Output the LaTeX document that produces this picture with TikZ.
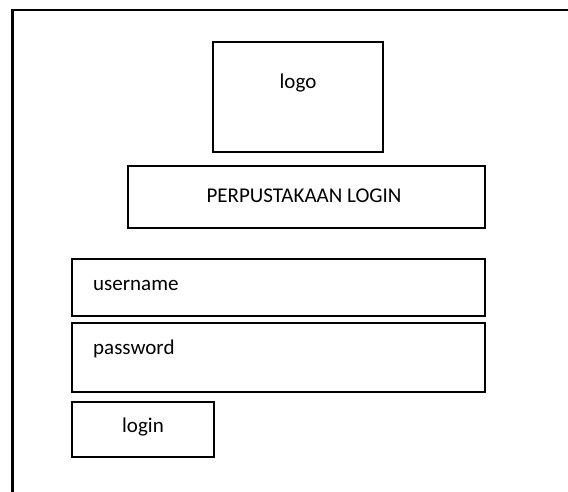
\documentclass[tikz,border=0pt]{standalone}
\usepackage{fontspec}
\setmainfont{Carlito}
\begin{document}
\begin{tikzpicture}[x=1pt,y=-1pt,
  frame/.style={draw=black, line width=2pt, fill=none, inner sep=0pt, outer sep=0pt},
  lbl/.style={font=\fontsize{21}{25}\selectfont, inner sep=0pt}]
\useasboundingbox (0,0) rectangle (568,491);
\clip (0,0) rectangle (568,491);
% page border of the login screen
\draw[line width=2.4pt] (12.5,600) |- (620,10);
% logo placeholder
\node[frame, minimum width=170pt, minimum height=110pt] (logo) at (298,97) {};
\node[lbl] (logotxt) at (298,83) {logo};
% title banner
\node[frame, minimum width=357pt, minimum height=62pt] (title) at (306.5,197) {};
\node[lbl] (titletxt) at (304,196) {PERPUSTAKAAN LOGIN};
% input fields
\node[frame, minimum width=413pt, minimum height=57pt] (user) at (278.5,287.5) {};
\node[lbl, anchor=west] (usertxt) at (93,285) {username};
\node[frame, minimum width=413pt, minimum height=69pt] (pass) at (278.5,357.5) {};
\node[lbl, anchor=west] (passtxt) at (93,349) {password};
% submit button
\node[frame, minimum width=142pt, minimum height=55pt] (btn) at (143,429.5) {};
\node[lbl] (btntxt) at (143,427) {login};
\end{tikzpicture}
\end{document}
